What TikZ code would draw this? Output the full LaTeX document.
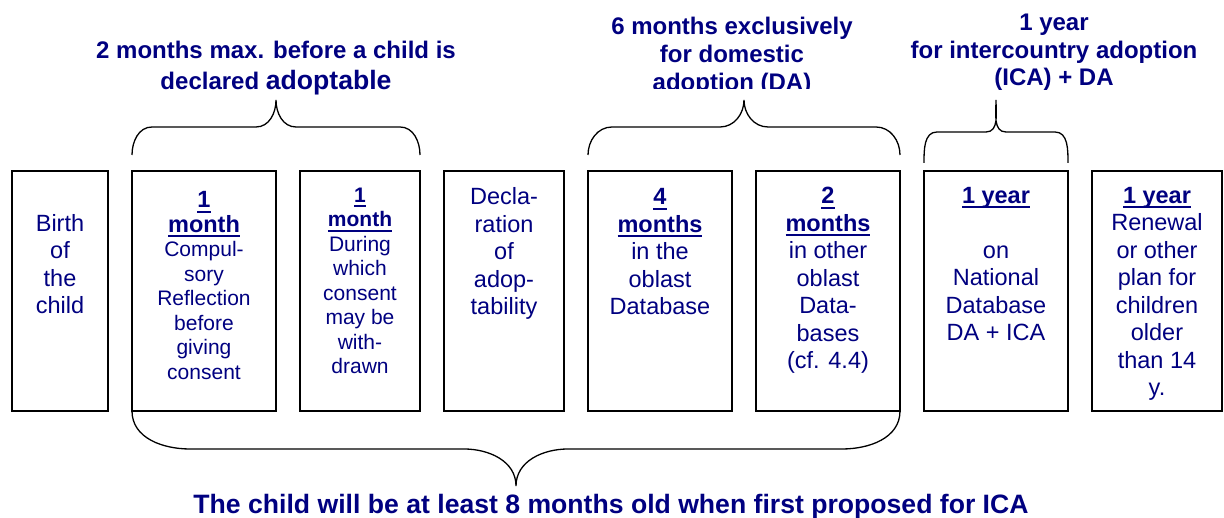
\documentclass[tikz,border=0pt]{standalone}
\usepackage{fontspec}
\setmainfont{Liberation Sans}
\usetikzlibrary{positioning}
\definecolor{navy}{RGB}{0,0,128}
\newsavebox{\hdrbox}
\newcommand{\hdr}[1]{\sbox{\hdrbox}{\bfseries #1}\rlap{\rule[-5pt]{\wd\hdrbox}{2pt}}\usebox{\hdrbox}}

\begin{document}
\begin{tikzpicture}[x=1pt, y=1pt,
    node distance=24pt,
    stage/.style={rectangle, draw, line width=1.3pt, minimum height=240pt, inner sep=0pt, outer sep=0pt},
    txt/.style={align=center, text=navy, inner sep=0pt, anchor=base, font=\fontsize{23.5}{27.5}\selectfont},
    small/.style={txt, font=\fontsize{21}{24.5}\selectfont},
    head/.style={align=center, text=navy, inner sep=0pt, anchor=base, font=\fontsize{24}{28}\selectfont\bfseries},
    brace/.style={line width=1.3pt}
  ]
  \useasboundingbox (0,0) rectangle (1224,518);

  % the stages, left to right
  \node[stage, minimum width=96pt] (b1) at (60,227) {};
  \node[stage, minimum width=144pt, right=of b1] (b2) {};
  \node[stage, minimum width=120pt, right=of b2] (b3) {};
  \node[stage, minimum width=120pt, right=of b3] (b4) {};
  \node[stage, minimum width=144pt, right=of b4] (b5) {};
  \node[stage, minimum width=144pt, right=of b5] (b6) {};
  \node[stage, minimum width=144pt, right=of b6] (b7) {};
  \node[stage, minimum width=130pt, right=of b7] (b8) {};

  % what happens in each stage (base = last line)
  \node[txt] (t1) at ([yshift=-143pt]b1.north) {Birth\\of\\the\\child};
  \node[small] (t2) at ([yshift=-208.5pt]b2.north) {\hdr{\fontsize{23.5}{24.5}\selectfont 1}\\\hdr{\fontsize{23.5}{24.5}\selectfont month}\\Compul-\\sory\\Reflection\\before\\giving\\consent};
  \node[small] (t3) at ([yshift=-203pt]b3.north) {\hdr{1}\\\hdr{month}\\During\\which\\consent\\may be\\with-\\drawn};
  \node[txt] (t4) at ([yshift=-144pt]b4.north) {Decla-\\ration\\of\\adop-\\tability};
  \node[txt] (t5) at ([yshift=-144pt]b5.north) {\hdr{4}\\\hdr{months}\\in the\\oblast\\Database};
  \node[txt] (t6) at ([yshift=-198pt]b6.north) {\hdr{2}\\\hdr{months}\\in other\\oblast\\Data-\\bases\\(cf. 4.4)};
  \node[txt] (t7) at ([yshift=-170pt]b7.north) {\hdr{1 year}\\[27.5pt]on\\National\\Database\\DA + ICA};
  \node[txt] (t8) at ([yshift=-225pt]b8.north) {\hdr{1 year}\\Renewal\\or other\\plan for\\children\\older\\than 14\\y.};

  % braces above
  \draw[brace] ([yshift=16pt]b2.north west) to[out=90,in=180] ++(20,28) -- ++(104,0)
    to[out=0,in=-90] ++(20,27) to[out=-90,in=180] ++(20,-27) -- ++(104,0) to[out=0,in=90] ++(20,-28);
  \draw[brace] ([yshift=16pt]b5.north west) to[out=90,in=180] ++(24,28) -- ++(108,0)
    to[out=0,in=-90] ++(24,27) to[out=-90,in=180] ++(24,-27) -- ++(108,0) to[out=0,in=90] ++(24,-28);
  \draw[brace] ([yshift=8pt]b7.north west) to[out=90,in=180] ++(13,31) -- ++(49,0)
    to[out=0,in=-90] ++(10,32) to[out=-90,in=180] ++(10,-32) -- ++(49,0) to[out=0,in=90] ++(13,-31);

  % brace below
  \draw[brace] (b2.south west) to[out=-90,in=180] ++(58,-38) -- ++(274,0)
    to[out=0,in=90] ++(52,-37) to[out=90,in=180] ++(52,37) -- ++(274,0) to[out=0,in=-90] (b6.south east);

  % headings
  \node[head] (h1) at (276,428) {2 months max. before a child is\\[3pt]declared {\fontsize{26.6}{28}\selectfont adoptable}};
  \begin{scope}
    \clip (0,429.5) rectangle (1224,518);
    \node[head] (h2) at (732,427) {6 months exclusively\\for domestic\\adoption (DA)};
  \end{scope}
  \node[head, font=\fontsize{24}{27.7}\selectfont\bfseries] (h3) at (1054,432) {1 year\\for intercountry adoption\\(ICA) + DA};
  \node[head, font=\fontsize{26.6}{30}\selectfont\bfseries] (note) at (611,4) {The child will be at least 8 months old when first proposed for ICA};
\end{tikzpicture}
\end{document}
